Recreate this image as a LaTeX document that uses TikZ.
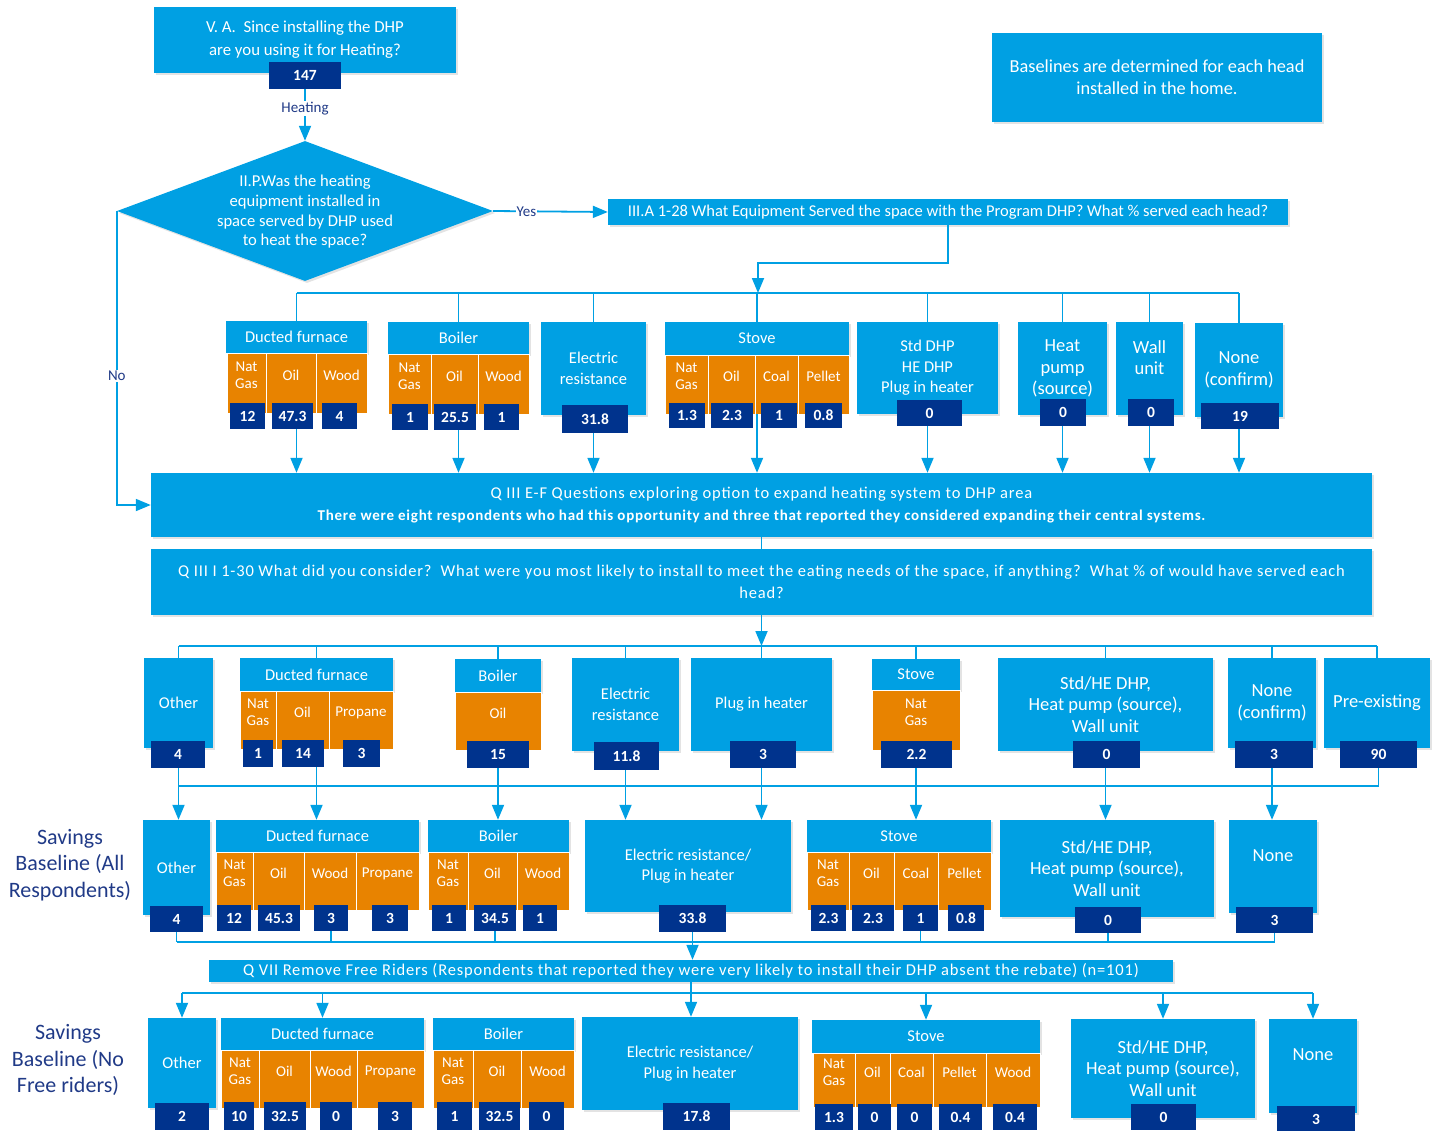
\documentclass[tikz,border=0pt]{standalone}
\usepackage{fontspec}
\setmainfont{Carlito}
\newfontfamily\qfont[LetterSpace=5]{Carlito}
\usetikzlibrary{arrows.meta,shapes.geometric,shadows}
\definecolor{dhpblue}{RGB}{0,160,227}
\definecolor{dhporange}{RGB}{232,131,0}
\definecolor{dhpnavy}{RGB}{0,51,141}
\definecolor{dhpink}{RGB}{32,58,135}
\begin{document}
\begin{tikzpicture}[x=1pt,y=-1pt,
  sz/.style 2 args={minimum width=#1pt,minimum height=#2pt},
  bx/.style={fill=dhpblue,text=white,inner sep=0pt,align=center,font=\fontsize{16.5}{20.5}\selectfont,drop shadow={shadow xshift=2pt,shadow yshift=-2pt,opacity=.22}},
  big/.style={font=\fontsize{18.5}{21.5}\selectfont},
  qtx/.style={font=\qfont\fontsize{16.5}{22}\selectfont},
  cl/.style={fill=dhporange,draw=white,line width=.8pt,text=white,inner sep=0pt,align=center,text depth=16pt,font=\fontsize{15}{17}\selectfont},
  nb/.style={fill=dhpnavy,text=white,inner sep=0pt,font=\bfseries\fontsize{15.5}{16}\selectfont},
  ln/.style={draw=dhpblue,line width=1.8pt},
  arr/.style={ln,-{Triangle[width=12pt,length=15pt]}},
  tag/.style={text=dhpink,fill=white,inner sep=1pt,font=\fontsize{15}{16}\selectfont},
  side/.style={text=dhpink,align=center,font=\fontsize{22}{26.5}\selectfont}]
\useasboundingbox (0,0) rectangle (1435,1130);
% top question and decision
\node[bx,sz={302}{66},font=\fontsize{16.8}{23}\selectfont] (qva) at (305,40) {V. A.\ \ Since installing the DHP\\are you using it for Heating?};
\node[nb,sz={72}{27}] (n147) at (305,75.5) {147};
\node[bx,sz={330}{89},font=\fontsize{18.3}{22}\selectfont] (note) at (1157,77.5) {Baselines are determined for each head\\installed in the home.};
\node[bx,diamond,sz={376}{140}] (dia) at (305,211) {};
\node[text=white,align=center,font=\fontsize{16.6}{19.7}\selectfont] (diat) at (305,212) {II.P.Was the heating\\equipment installed in\\space served by DHP used\\to heat the space?};
\node[bx,sz={680}{26}] (qa) at (948,212) {III.A 1-28 What Equipment Served the space with the Program DHP? What \% served each head?};
% row 1: existing equipment
\node[bx,sz={141}{32}] (df1) at (296.5,337) {Ducted furnace};
\node[cl,sz={39}{60}] (df1a) at (246.5,383) {Nat\\Gas};
\node[cl,sz={50}{60}] (df1b) at (291,383) {Oil};
\node[cl,sz={51}{60}] (df1c) at (341.5,383) {Wood};
\node[nb,sz={35}{26}] (df1n1) at (247.5,416) {12};
\node[nb,sz={41}{26}] (df1n2) at (292.5,416) {47.3};
\node[nb,sz={35}{26}] (df1n3) at (339.5,416) {4};
\node[bx,sz={141}{32}] (bo1) at (458.5,338) {Boiler};
\node[cl,sz={43}{60}] (bo1a) at (409.5,384) {Nat\\Gas};
\node[cl,sz={47}{60}] (bo1b) at (454.5,384) {Oil};
\node[cl,sz={51}{60}] (bo1c) at (503.5,384) {Wood};
\node[nb,sz={36}{26}] (bo1n1) at (410,417) {1};
\node[nb,sz={42}{26}] (bo1n2) at (455,417) {25.5};
\node[nb,sz={35}{26}] (bo1n3) at (501.5,417) {1};
\node[bx,sz={105}{93}] (er1) at (593.5,368.5) {Electric\\resistance};
\node[nb,sz={66}{28}] (er1n) at (595,419) {31.8};
\node[bx,sz={184}{33}] (st1) at (757,338.5) {Stove};
\node[cl,sz={43}{59}] (st1a) at (686.5,384.5) {Nat\\Gas};
\node[cl,sz={47}{59}] (st1b) at (731.5,384.5) {Oil};
\node[cl,sz={43}{59}] (st1c) at (776.5,384.5) {Coal};
\node[cl,sz={51}{59}] (st1d) at (823.5,384.5) {Pellet};
\node[nb,sz={36}{25}] (st1n1) at (687,415.5) {1.3};
\node[nb,sz={42}{25}] (st1n2) at (732,415.5) {2.3};
\node[nb,sz={36}{25}] (st1n3) at (779,415.5) {1};
\node[nb,sz={37}{25}] (st1n4) at (823.5,415.5) {0.8};
\node[bx,sz={141}{92}] (sd1) at (927.5,368) {Std DHP\\HE DHP\\Plug in heater};
\node[nb,sz={65}{26}] (sd1n) at (929.5,413) {0};
\node[bx,big,sz={89}{93}] (hp1) at (1062.5,368.5) {Heat\\pump\\(source)};
\node[nb,sz={46}{27}] (hp1n) at (1063,412.5) {0};
\node[bx,big,sz={67}{93},text depth=22pt] (wu1) at (1149.5,368.5) {Wall\\unit};
\node[nb,sz={46}{27}] (wu1n) at (1151,412.5) {0};
\node[bx,big,sz={88}{94}] (nc1) at (1239,370) {None\\(confirm)};
\node[nb,sz={78}{26}] (nc1n) at (1240,416) {19};
% middle questions
\node[bx,qtx,sz={1221}{64}] (qef) at (761.5,505) {Q III E-F Questions exploring option to expand heating system to DHP area\\{\bfseries\fontsize{15}{16}\selectfont There were eight respondents who had this opportunity and three that reported they considered expanding their central systems.}};
\node[bx,qtx,sz={1221}{66}] (qi) at (761.5,582) {Q III I 1-30 What did you consider?\ \ What were you most likely to install to meet the eating needs of the space, if anything?\ \ What \% of would have served each\\head?};
% row 2: likely alternative
\node[bx,sz={69}{90}] (o2) at (178.5,703) {Other};
\node[nb,sz={54}{27}] (o2n) at (178,754.5) {4};
\node[bx,sz={153}{33}] (df2) at (316.5,674.5) {Ducted furnace};
\node[cl,sz={36}{58}] (df2a) at (258,720) {Nat\\Gas};
\node[cl,sz={53}{58}] (df2b) at (302.5,720) {Oil};
\node[cl,sz={64}{58}] (df2c) at (361,720) {Propane};
\node[nb,sz={30}{27}] (df2n1) at (258,753.5) {1};
\node[nb,sz={42}{27}] (df2n2) at (303,753.5) {14};
\node[nb,sz={37}{27}] (df2n3) at (361.5,753.5) {3};
\node[bx,sz={86}{33}] (bo2) at (498,675.5) {Boiler};
\node[cl,sz={86}{58}] (bo2a) at (498,721) {Oil};
\node[nb,sz={62}{27}] (bo2n) at (498,754.5) {15};
\node[bx,sz={107}{93}] (er2) at (625.5,704.5) {Electric\\resistance};
\node[nb,sz={65}{28}] (er2n) at (626.5,756) {11.8};
\node[bx,sz={141}{93}] (pl2) at (761.5,704.5) {Plug in heater};
\node[nb,sz={66}{27}] (pl2n) at (763,754.5) {3};
\node[bx,sz={88}{31}] (st2) at (916,674.5) {Stove};
\node[cl,sz={88}{60}] (st2a) at (916,720) {Nat\\Gas};
\node[nb,sz={71}{27}] (st2n) at (916.5,754.5) {2.2};
\node[bx,big,sz={215}{93}] (sd2) at (1105.5,704.5) {Std/HE DHP,\\Heat pump (source),\\Wall unit};
\node[nb,sz={67}{27}] (sd2n) at (1106.5,754.5) {0};
\node[bx,big,sz={88}{90}] (nc2) at (1272,703) {None\\(confirm)};
\node[nb,sz={78}{27}] (nc2n) at (1274,754.5) {3};
\node[bx,big,sz={106}{90}] (pe2) at (1377,703) {Pre-existing};
\node[nb,sz={77}{27}] (pe2n) at (1378.5,754.5) {90};
% row 3: baseline, all respondents
\node[side] (sv3) at (70,865) {Savings\\Baseline (All\\Respondents)};
\node[bx,sz={67}{95}] (o3) at (176.5,867.5) {Other};
\node[nb,sz={53}{26}] (o3n) at (176.5,919) {4};
\node[bx,sz={203}{32}] (df3) at (317.5,836) {Ducted furnace};
\node[cl,sz={37}{58}] (df3a) at (234.5,881) {Nat\\Gas};
\node[cl,sz={51}{58}] (df3b) at (278.5,881) {Oil};
\node[cl,sz={52}{58}] (df3c) at (330,881) {Wood};
\node[cl,sz={63}{58}] (df3d) at (387.5,881) {Propane};
\node[nb,sz={34}{26}] (df3n1) at (234,918) {12};
\node[nb,sz={42}{26}] (df3n2) at (279,918) {45.3};
\node[nb,sz={34}{26}] (df3n3) at (331,918) {3};
\node[nb,sz={36}{26}] (df3n4) at (390,918) {3};
\node[bx,sz={141}{32}] (bo3) at (498.5,836) {Boiler};
\node[cl,sz={40}{58}] (bo3a) at (448,881) {Nat\\Gas};
\node[cl,sz={49}{58}] (bo3b) at (492.5,881) {Oil};
\node[cl,sz={52}{58}] (bo3c) at (543,881) {Wood};
\node[nb,sz={34}{26}] (bo3n1) at (449,918) {1};
\node[nb,sz={42}{26}] (bo3n2) at (495,918) {34.5};
\node[nb,sz={34}{26}] (bo3n3) at (540,918) {1};
\node[bx,sz={206}{92}] (ep3) at (688,866) {Electric resistance/\\Plug in heater};
\node[nb,sz={67}{27}] (ep3n) at (692.5,918.5) {33.8};
\node[bx,sz={184}{32}] (st3) at (899,836) {Stove};
\node[cl,sz={42}{58}] (st3a) at (828,881) {Nat\\Gas};
\node[cl,sz={45}{58}] (st3b) at (871.5,881) {Oil};
\node[cl,sz={44}{58}] (st3c) at (916,881) {Coal};
\node[cl,sz={53}{58}] (st3d) at (964.5,881) {Pellet};
\node[nb,sz={35}{26}] (st3n1) at (828.5,918) {2.3};
\node[nb,sz={42}{26}] (st3n2) at (873,918) {2.3};
\node[nb,sz={35}{26}] (st3n3) at (920.5,918) {1};
\node[nb,sz={36}{26}] (st3n4) at (966,918) {0.8};
\node[bx,big,sz={214}{97}] (sd3) at (1107,868.5) {Std/HE DHP,\\Heat pump (source),\\Wall unit};
\node[nb,sz={66}{26}] (sd3n) at (1108,920) {0};
\node[bx,big,sz={88}{93},text depth=22pt] (nc3) at (1273,866.5) {None};
\node[nb,sz={77}{26}] (nc3n) at (1274.5,920) {3};
\node[bx,qtx,sz={964}{22}] (qv) at (691,971) {Q VII Remove Free Riders (Respondents that reported they were very likely to install their DHP absent the rebate) (n=101)};
% row 4: baseline, no free riders
\node[side] (sv4) at (68,1060) {Savings\\Baseline (No\\Free riders)};
\node[bx,sz={68}{90}] (o4) at (182,1063) {Other};
\node[nb,sz={54}{27}] (o4n) at (182,1116.5) {2};
\node[bx,sz={203}{32}] (df4) at (322.5,1034) {Ducted furnace};
\node[cl,sz={38}{58}] (df4a) at (240,1079) {Nat\\Gas};
\node[cl,sz={51}{58}] (df4b) at (284.5,1079) {Oil};
\node[cl,sz={47}{58}] (df4c) at (333.5,1079) {Wood};
\node[cl,sz={67}{58}] (df4d) at (390.5,1079) {Propane};
\node[nb,sz={30}{28}] (df4n1) at (239,1116) {10};
\node[nb,sz={42}{28}] (df4n2) at (285,1116) {32.5};
\node[nb,sz={32}{28}] (df4n3) at (336,1116) {0};
\node[nb,sz={34}{28}] (df4n4) at (395,1116) {3};
\node[bx,sz={141}{32}] (bo4) at (503.5,1034) {Boiler};
\node[cl,sz={40}{58}] (bo4a) at (453,1079) {Nat\\Gas};
\node[cl,sz={48}{58}] (bo4b) at (497,1079) {Oil};
\node[cl,sz={53}{58}] (bo4c) at (547.5,1079) {Wood};
\node[nb,sz={35}{28}] (bo4n1) at (454.5,1116) {1};
\node[nb,sz={41}{28}] (bo4n2) at (499.5,1116) {32.5};
\node[nb,sz={35}{28}] (bo4n3) at (546.5,1116) {0};
\node[bx,sz={216}{93}] (ep4) at (690,1063.5) {Electric resistance/\\Plug in heater};
\node[nb,sz={67}{27}] (ep4n) at (696.5,1116.5) {17.8};
\node[bx,sz={228}{33}] (st4) at (926,1036.5) {Stove};
\node[cl,sz={42}{54}] (st4a) at (834,1080) {Nat\\Gas};
\node[cl,sz={35}{54}] (st4b) at (872.5,1080) {Oil};
\node[cl,sz={43}{54}] (st4c) at (911.5,1080) {Coal};
\node[cl,sz={53}{54}] (st4d) at (959.5,1080) {Pellet};
\node[cl,sz={54}{54}] (st4e) at (1013,1080) {Wood};
\node[nb,sz={38}{26}] (st4n1) at (834,1117) {1.3};
\node[nb,sz={33}{26}] (st4n2) at (874.5,1117) {0};
\node[nb,sz={35}{26}] (st4n3) at (914.5,1117) {0};
\node[nb,sz={43}{26}] (st4n4) at (960.5,1117) {0.4};
\node[nb,sz={44}{26}] (st4n5) at (1015,1117) {0.4};
\node[bx,big,sz={184}{99}] (sd4) at (1163,1068.5) {Std/HE DHP,\\Heat pump (source),\\Wall unit};
\node[nb,sz={65}{26}] (sd4n) at (1163.5,1117) {0};
\node[bx,big,sz={88}{94},text depth=22pt] (nc4) at (1313,1066) {None};
\node[nb,sz={78}{26}] (nc4n) at (1316,1119) {3};
% connectors, top part
\draw[arr] (n147.south) -- (dia.north) node[tag,pos=.37] (lheat) {Heating};
\draw[arr] (dia.east) -- (qa.west) node[tag,pos=.29] (lyes) {Yes};
\draw[arr] (dia.west) |- (qef.west) node[tag,pos=.28] (lno) {No};
\coordinate (k1) at (758,263);
\coordinate (bus1) at (758,293);
\draw[arr] (qa.south) |- (k1) -- (bus1);
\draw[ln] (df1.north |- bus1) -- (nc1.north |- bus1);
\foreach \n in {df1,bo1,er1,st1,sd1,hp1,wu1,nc1} \draw[ln] (\n.north |- bus1) -- (\n.north);
\foreach \h/\b in {df1/df1n2,bo1/bo1n2,er1/er1n,st1/st1b,sd1/sd1n,hp1/hp1n,wu1/wu1n,nc1/nc1n}
  \draw[arr] (\h.center |- \b.south) -- (\h.center |- qef.north);
\draw[ln] (qef.south) -- (qi.north);
% connectors, lower part
\coordinate (bus2) at (761.5,646);
\draw[arr] (qi.south) -- (bus2);
\draw[ln] (o2.north |- bus2) -- (pe2.north |- bus2);
\foreach \n in {o2,df2,bo2,er2,pl2,st2,sd2,nc2,pe2} \draw[ln] (\n.north |- bus2) -- (\n.north);
\coordinate (bus3) at (0,786);
\draw[ln] (o2n.south |- bus3) -- (pe2n.south |- bus3);
\draw[ln] (pe2n.south) -- (pe2n.south |- bus3);
\foreach \h/\b/\t in {o2/o2n/o3,df2/df2n2/df3,bo2/bo2n/bo3,er2/er2n/ep3,pl2/pl2n/ep3,st2/st2n/st3,sd2/sd2n/sd3,nc2/nc2n/nc3}
  \draw[arr] (\h.center |- \b.south) -- (\h.center |- \t.north);
\coordinate (bus4) at (0,942);
\draw[ln] (o3n.south |- bus4) -- (nc3n.south |- bus4);
\foreach \b in {o3n,df3n3,bo3n2,st3n3,sd3n,nc3n} \draw[ln] (\b.south) -- (\b.south |- bus4);
\draw[arr] (ep3n.south) -- (ep3n.south |- qv.north);
\coordinate (bus5) at (0,993);
\draw[ln] (o4.north |- bus5) -- (nc4.north |- bus5);
\draw[arr] (qv.south) -- (qv.south |- ep4.north);
\foreach \n in {o4,df4,st4,sd4,nc4} \draw[arr] (\n.north |- bus5) -- (\n.north);
\end{tikzpicture}
\end{document}
